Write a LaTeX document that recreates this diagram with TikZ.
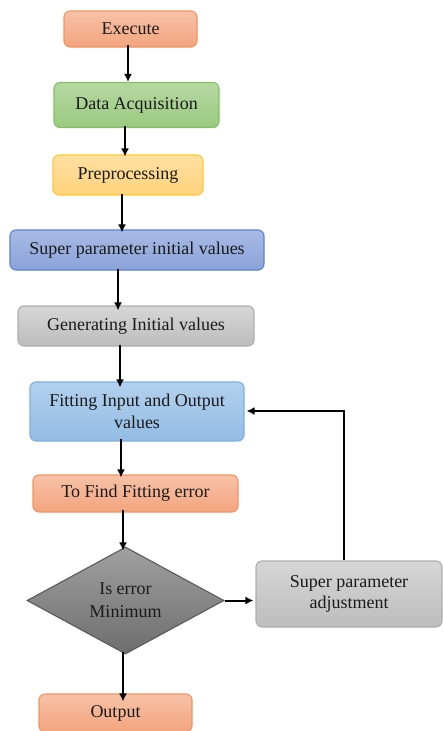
\documentclass[tikz,border=0pt]{standalone}
\usepackage{fontspec}
\setmainfont{Liberation Serif}
\usetikzlibrary{shapes.geometric,arrows.meta}
\definecolor{orB}{HTML}{F29460}
\definecolor{orT}{HTML}{F7C2A7}
\definecolor{orD}{HTML}{F3A47E}
\definecolor{grB}{HTML}{82C064}
\definecolor{grT}{HTML}{B6D8A2}
\definecolor{grD}{HTML}{9BCA80}
\definecolor{yeB}{HTML}{FFC82E}
\definecolor{yeT}{HTML}{FFE0A2}
\definecolor{yeD}{HTML}{FFD27C}
\definecolor{blB}{HTML}{5A82CE}
\definecolor{blT}{HTML}{A9BBE6}
\definecolor{blD}{HTML}{8AA2D9}
\definecolor{gyB}{HTML}{ADADAD}
\definecolor{gyT}{HTML}{D6D6D6}
\definecolor{gyD}{HTML}{BDBDBD}
\definecolor{lbB}{HTML}{7DB0E2}
\definecolor{lbT}{HTML}{B3D0EE}
\definecolor{lbD}{HTML}{93BCE4}
\definecolor{dmB}{HTML}{5A5A5A}
\definecolor{dmT}{HTML}{A0A0A0}
\definecolor{dmD}{HTML}{6E6E6E}
\definecolor{txt}{HTML}{1A1A1A}
\tikzset{
  box/.style={rounded corners=6pt, line width=1.1pt, align=center, inner sep=2pt,
    text=txt, font=\fontsize{18}{21.5}\selectfont},
  orbox/.style={box, draw=orB, top color=orT, bottom color=orD},
  grbox/.style={box, draw=grB, top color=grT, bottom color=grD},
  yebox/.style={box, draw=yeB, top color=yeT, bottom color=yeD},
  blbox/.style={box, draw=blB, top color=blT, bottom color=blD},
  gybox/.style={box, draw=gyB, top color=gyT, bottom color=gyD},
  lbbox/.style={box, draw=lbB, top color=lbT, bottom color=lbD},
  arr/.style={line width=2pt, -{Latex[length=8pt,width=8pt]}},
}
\begin{document}
\begin{tikzpicture}[x=1pt,y=-1pt]
\useasboundingbox (0,0) rectangle (443,731);
\node[orbox, minimum width=133pt, minimum height=36pt] (exe) at (130.5,29) {Execute};
\node[grbox, minimum width=165pt, minimum height=45pt] (daq) at (136.5,105) {Data Acquisition};
\node[yebox, minimum width=150pt, minimum height=40pt] (pre) at (128,175) {Preprocessing};
\node[blbox, minimum width=254pt, minimum height=40pt] (spi) at (137,250) {Super parameter initial values};
\node[gybox, minimum width=236pt, minimum height=40pt] (gen) at (136,326) {Generating Initial values};
\node[lbbox, minimum width=214pt, minimum height=59pt] (fit) at (137,411.5) {Fitting Input and Output\\values};
\node[orbox, minimum width=205pt, minimum height=37pt] (err) at (135.5,493.5) {To Find Fitting error};
\node[diamond, draw=dmB, line width=1.1pt, top color=dmT, bottom color=dmD, aspect=1.84,
      minimum width=197pt, minimum height=107pt, inner sep=0pt, align=center, text=txt,
      font=\fontsize{18}{23}\selectfont] (dec) at (125.5,600.5) {Is error\\Minimum};
\node[gybox, minimum width=186pt, minimum height=66pt] (adj) at (349,594) {Super parameter\\adjustment};
\node[orbox, minimum width=153pt, minimum height=38pt] (out) at (115.5,713) {Output};

\draw[arr] ([yshift=3pt]exe.south -| 128,0) -- (daq.north -| 128,0);
\draw[arr] ([yshift=2pt]daq.south -| 125,0) -- ([yshift=-2pt]pre.north -| 125,0);
\draw[arr] ([yshift=2pt]pre.south -| 122,0) -- ([yshift=-3pt]spi.north -| 122,0);
\draw[arr] ([yshift=2pt]spi.south -| 118,0) -- ([yshift=-5pt]gen.north -| 118,0);
\draw[arr] ([yshift=2pt]gen.south -| 120,0) -- ([yshift=-6pt]fit.north -| 120,0);
\draw[arr] ([yshift=3pt]fit.south -| 121,0) -- ([yshift=-3pt]err.north -| 121,0);
\draw[arr] ([yshift=3pt]err.south -| 123,0) -- ([yshift=-4pt]dec.north -| 123,0);
\draw[arr] (dec.east) -- ([xshift=-2pt]adj.west |- dec.east);
\draw[arr] ([yshift=3pt]dec.south -| 123,0) -- ([yshift=-8pt]out.north -| 123,0);
\coordinate (turn) at (344,411);
\draw[arr] (adj.north -| turn) -- (turn) -- ([xshift=2pt]fit.east |- turn);
\end{tikzpicture}
\end{document}
